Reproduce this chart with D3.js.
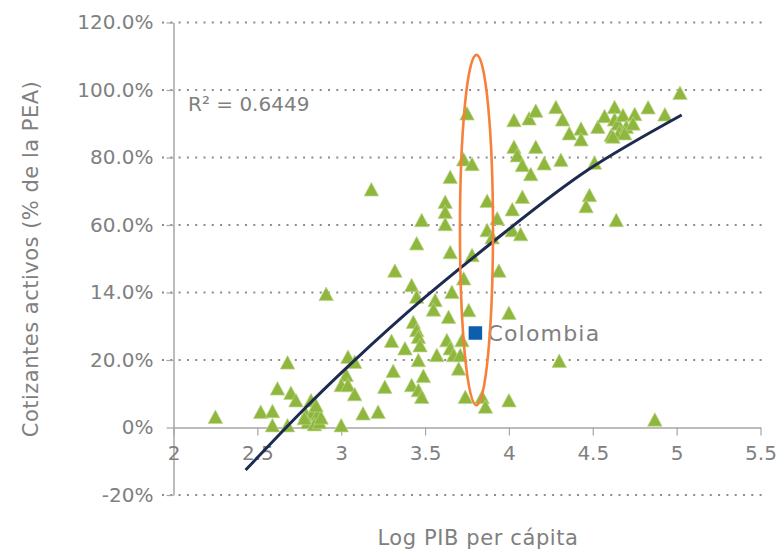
<!DOCTYPE html>
<html>
<head>
<meta charset="utf-8">
<script src="https://cdn.jsdelivr.net/npm/d3@7"></script>
<style>
  html, body { margin: 0; padding: 0; background: #ffffff; }
  svg { display: block; }
  text { font-family: "DejaVu Sans", sans-serif; fill: #808080; }
</style>
</head>
<body>
<svg id="chart" width="781" height="554"></svg>
<script>
// Log GDP per capita (x) vs. active contributors as % of labour force (y)
const logGdp = [
  2.25,2.52,2.59,2.59,2.62,2.68,2.70,2.73,2.68,2.82,
  2.79,2.83,2.86,2.80,2.84,2.87,3.00,2.91,3.04,3.08,
  3.03,3.00,3.04,3.08,3.13,3.22,3.32,3.42,3.45,3.56,
  3.55,3.65,3.66,3.64,3.43,3.45,3.46,3.47,3.30,3.38,
  3.57,3.63,3.65,3.67,3.72,3.71,3.70,3.76,3.73,3.78,
  3.94,4.00,3.46,3.31,3.49,3.42,3.46,3.48,3.26,3.74,
  3.84,3.86,4.00,3.75,3.73,3.78,3.65,3.18,3.62,3.62,
  3.62,3.48,3.45,3.87,3.93,3.87,3.90,5.02,4.03,4.12,
  4.16,4.28,4.32,4.36,4.43,4.43,4.53,4.57,4.63,4.63,
  4.61,4.65,4.68,4.66,4.70,4.69,4.75,4.74,4.83,4.93,
  4.62,4.03,4.05,4.16,4.08,4.13,4.21,4.31,4.51,4.48,
  4.46,4.08,4.02,4.02,4.07,4.64,4.30,4.87,2.78,2.88,
  2.85
];
const activeShare = [
  3.2,4.7,4.9,0.7,11.6,19.3,10.3,8.1,0.7,8.1,
  4.0,4.6,4.0,1.6,1.0,1.6,0.7,39.6,21.0,19.5,
  15.6,12.6,12.6,9.9,4.2,4.7,46.5,42.2,38.8,37.8,
  35.0,52.0,40.2,32.8,31.3,28.9,26.9,24.4,25.7,23.5,
  21.5,25.9,23.5,21.5,25.9,21.5,17.5,34.8,44.2,51.1,
  46.5,34.0,20.0,16.8,15.3,12.6,11.1,9.1,12.1,9.1,
  9.1,6.2,8.1,93.1,79.5,78.1,74.3,70.6,66.9,63.9,
  60.3,61.5,54.6,67.2,62.0,58.5,56.4,99.2,91.1,91.6,
  93.9,95.0,91.3,87.2,88.6,85.4,89.1,92.3,95.0,91.3,
  86.7,90.1,92.6,87.6,89.1,87.2,92.9,90.1,94.9,92.8,
  86.2,83.2,80.7,83.2,77.8,75.1,78.3,79.3,78.5,68.9,
  65.6,68.4,64.7,58.5,57.3,61.5,19.8,2.4,2.8,3.0,
  6.6
];

// Trend line (second-order fit), sampled along its length
const trendX = [2.43, 2.75, 3.06, 3.50, 3.98, 4.47, 5.03];
const trendY = [-12.6, 4.0, 19.0, 38.6, 58.0, 76.3, 92.6];
const rSquaredLabel = "R\u00B2 = 0.6449";

// Highlighted country
const colombiaName = "Colombia";
const colombiaX = 3.80;
const colombiaY = 28.0;

// Countries at a similar income level (ellipse bounds, in data units)
const groupXRange = [3.708, 3.905];
const groupYRange = [6.6, 110.4];

// Axis ticks
const xTickValues = [2, 2.5, 3, 3.5, 4, 4.5, 5, 5.5];
const xTickLabels = ["2", "2.5", "3", "3.5", "4", "4.5", "5", "5.5"];
const yTickValues = [-20, 0, 20, 40, 60, 80, 100, 120];
const yTickLabels = ["-20%", "0%", "20.0%", "14.0%", "60.0%", "80.0%", "100.0%", "120.0%"];

const xTitle = "Log PIB per c\u00E1pita";
const yTitle = "Cotizantes activos (% de la PEA)";

const svg = d3.select("#chart");

const x = d3.scaleLinear().domain([2, 5.5]).range([173.5, 760.5]);
const y = d3.scaleLinear().domain([-20, 120]).range([495, 22.5]);

const axisGrey = "#a6a6a6";
const dotGrey = "#8c8c8c";

// Dotted horizontal gridlines (the 0% line is the solid x axis)
svg.append("g")
  .selectAll("line")
  .data(yTickValues.filter(v => v !== 0))
  .join("line")
  .attr("x1", 162).attr("x2", 762)
  .attr("y1", d => y(d)).attr("y2", d => y(d))
  .attr("stroke", dotGrey)
  .attr("stroke-width", 2)
  .attr("stroke-dasharray", "2 6.3");

// Y axis
const yAxis = d3.axisLeft(y)
  .tickValues(yTickValues)
  .tickFormat((d, i) => yTickLabels[i])
  .tickSizeInner(7)
  .tickSizeOuter(0)
  .tickPadding(13);
const gy = svg.append("g")
  .attr("transform", `translate(${x(2)},0)`)
  .call(yAxis);
gy.select(".domain").attr("stroke", axisGrey).attr("stroke-width", 1.5);
gy.selectAll(".tick line").attr("stroke", axisGrey).attr("stroke-width", 1.2);
gy.selectAll(".tick text")
  .attr("font-size", 20)
  .attr("font-family", "DejaVu Sans, sans-serif")
  .attr("fill", "#808080");

// X axis, crossing at 0%
const xAxis = d3.axisBottom(x)
  .tickValues(xTickValues)
  .tickFormat((d, i) => xTickLabels[i])
  .tickSizeInner(8)
  .tickSizeOuter(0)
  .tickPadding(10);
const gx = svg.append("g")
  .attr("transform", `translate(0,${y(0)})`)
  .call(xAxis);
gx.select(".domain").attr("stroke", axisGrey).attr("stroke-width", 1.5);
gx.selectAll(".tick line").attr("stroke", axisGrey).attr("stroke-width", 1.2);
gx.selectAll(".tick text")
  .attr("font-size", 20)
  .attr("font-family", "DejaVu Sans, sans-serif")
  .attr("fill", "#808080");

// Country markers: triangles centred on each point
const triW = 14.5, triH = 13.5;
const triPath = `M0,${-triH / 2}L${triW / 2},${triH / 2}L${-triW / 2},${triH / 2}Z`;
svg.append("g")
  .selectAll("path")
  .data(d3.range(logGdp.length))
  .join("path")
  .attr("d", triPath)
  .attr("transform", i => `translate(${x(logGdp[i])},${y(activeShare[i])})`)
  .attr("fill", "#8fb73e")
  .attr("stroke", "#bcd58a")
  .attr("stroke-width", 0.7);

// Trend line
const trendLine = d3.line()
  .x(i => x(trendX[i]))
  .y(i => y(trendY[i]))
  .curve(d3.curveNatural);
svg.append("path")
  .datum(d3.range(trendX.length))
  .attr("d", trendLine)
  .attr("fill", "none")
  .attr("stroke", "#1c2b4f")
  .attr("stroke-width", 3);

// Colombia
const sq = 13.5;
svg.append("rect")
  .attr("x", x(colombiaX) - sq / 2)
  .attr("y", y(colombiaY) - sq / 2)
  .attr("width", sq).attr("height", sq)
  .attr("fill", "#0d5fae");
svg.append("text")
  .attr("x", x(colombiaX) + 12)
  .attr("y", y(colombiaY) + 8)
  .attr("font-size", 22)
  .attr("letter-spacing", 1.2)
  .text(colombiaName);

// Ellipse around the income peer group
svg.append("ellipse")
  .attr("cx", (x(groupXRange[0]) + x(groupXRange[1])) / 2)
  .attr("cy", (y(groupYRange[0]) + y(groupYRange[1])) / 2)
  .attr("rx", (x(groupXRange[1]) - x(groupXRange[0])) / 2)
  .attr("ry", (y(groupYRange[0]) - y(groupYRange[1])) / 2)
  .attr("fill", "none")
  .attr("stroke", "#f5813a")
  .attr("stroke-width", 2.6);

// R-squared label
svg.append("text")
  .attr("x", 188)
  .attr("y", 111)
  .attr("font-size", 20)
  .text(rSquaredLabel);

// Axis titles
svg.append("text")
  .attr("x", 478)
  .attr("y", 545)
  .attr("text-anchor", "middle")
  .attr("font-size", 21)
  .attr("letter-spacing", 0.6)
  .text(xTitle);

svg.append("text")
  .attr("transform", "translate(38,259) rotate(-90)")
  .attr("text-anchor", "middle")
  .attr("font-size", 21)
  .attr("letter-spacing", 0.5)
  .text(yTitle);
</script>
</body>
</html>
